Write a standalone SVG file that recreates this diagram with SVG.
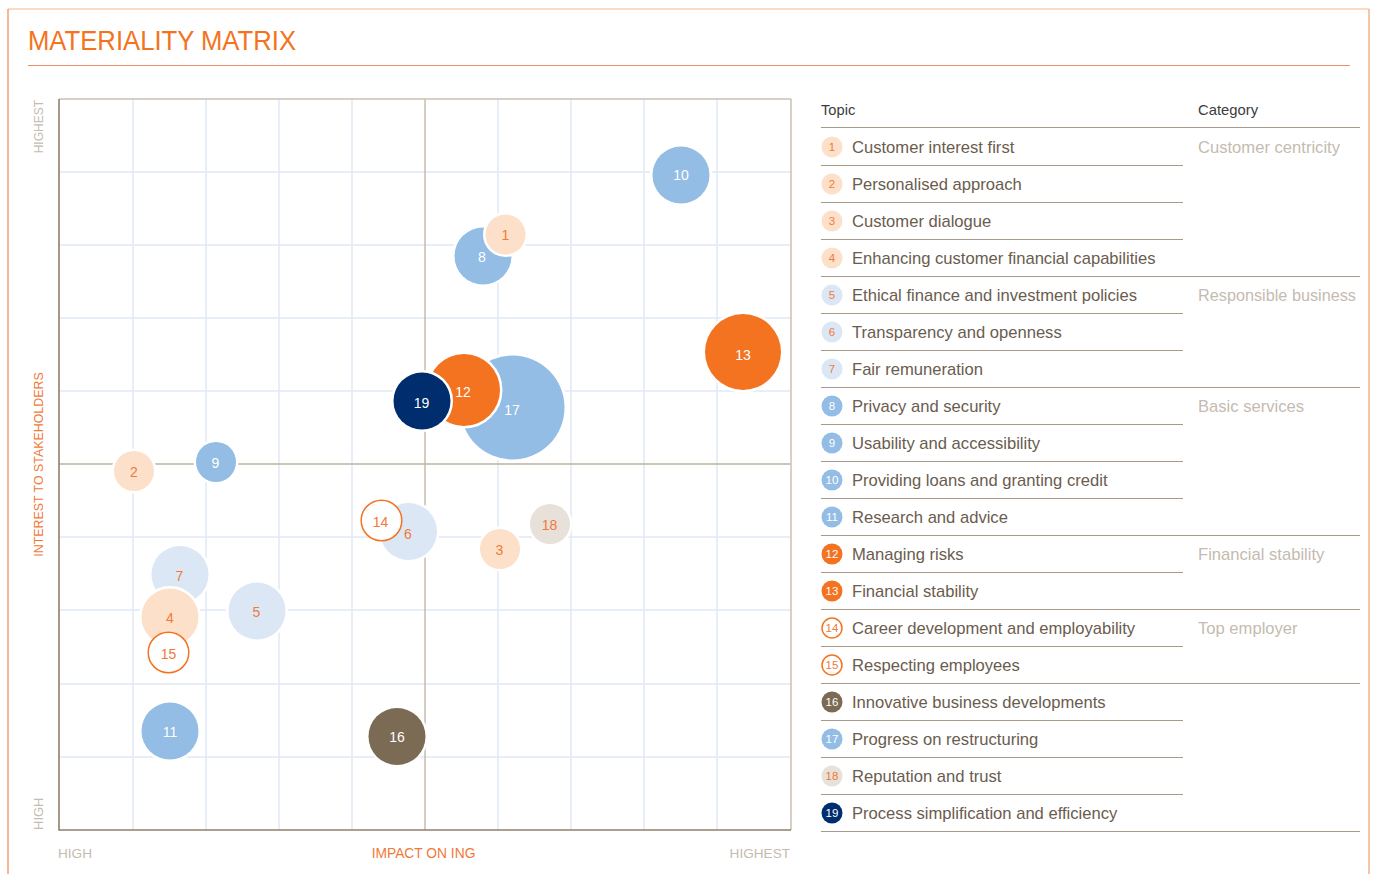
<svg xmlns="http://www.w3.org/2000/svg" width="1375" height="874" viewBox="0 0 1375 874">
<style>
text{font-family:"Liberation Sans",Arial,sans-serif}
.grid{stroke:#e0e9f5;stroke-width:1.5;fill:none}
.mid{stroke:#bfb2a3;stroke-width:1.3;fill:none}
.b{stroke:#fff;stroke-width:5;paint-order:stroke}
.peach{fill:#fde0c9}
.lblue{fill:#dce7f6}
.mblue{fill:#93bde4}
.orange{fill:#f37321}
.brown{fill:#7b6a54}
.beige{fill:#e7e1da}
.navy{fill:#002d6e}
.ring{fill:#fff;stroke:#f37321;stroke-width:1.5}
.lw{fill:#fff;font-size:14px;text-anchor:middle}
.lo{fill:#f07a3a;font-size:14px;text-anchor:middle}
.bw{fill:#fff;font-size:11.5px;text-anchor:middle}
.bo{fill:#f07a3a;font-size:11.5px;text-anchor:middle}
.topic{fill:#6a5c4e;font-size:16.6px}
.cat{fill:#c5bbb0;font-size:16.6px}
.sep{stroke:#a89a8a;stroke-width:1.2}
.axis{fill:#c5bbb0;font-size:13.6px}
</style>
<rect width="1375" height="874" fill="#fff"/>
<g id="page-frame">
<line x1="8" y1="9" x2="1369" y2="9" stroke="#f6b38c" stroke-width="1.2"/>
<line x1="8" y1="9" x2="8" y2="874" stroke="#f0874a" stroke-width="1.2"/>
<line x1="1369" y1="9" x2="1369" y2="874" stroke="#f0a070" stroke-width="1.2"/>
</g>
<g id="title">
<text x="28" y="50" font-size="27" fill="#f37321" textLength="268" lengthAdjust="spacingAndGlyphs">MATERIALITY MATRIX</text>
<line x1="28" y1="65.5" x2="1350" y2="65.5" stroke="#f09060" stroke-width="1"/>
</g>
<g id="grid">
<path class="grid" d="M133 99V830M206 99V830M279 99V830M352 99V830M498 99V830M571 99V830M644 99V830M717 99V830M59 172H791M59 245H791M59 318H791M59 391H791M59 537H791M59 610H791M59 684H791M59 757H791"/>
<path class="mid" d="M425 99V830M59 464H791"/>
</g>
<g id="axes">
<line x1="59" y1="99" x2="791" y2="99" stroke="#cbc1b5" stroke-width="1.5"/>
<line x1="791" y1="99" x2="791" y2="830" stroke="#cbc1b5" stroke-width="1.5"/>
<line x1="59" y1="99" x2="59" y2="830.8" stroke="#8f7f6c" stroke-width="1.6"/>
<line x1="59" y1="830" x2="791" y2="830" stroke="#8f7f6c" stroke-width="1.6"/>
<text class="axis" transform="translate(43,100) rotate(-90)" text-anchor="end" style="font-size:12px">HIGHEST</text>
<text transform="translate(43,464.5) rotate(-90)" text-anchor="middle" font-size="12.4" fill="#f07a3a">INTEREST TO STAKEHOLDERS</text>
<text class="axis" transform="translate(43,830) rotate(-90)" style="font-size:13px">HIGH</text>
<text class="axis" x="58" y="858">HIGH</text>
<text x="423.5" y="858" font-size="13.8" fill="#f07a3a" text-anchor="middle">IMPACT ON ING</text>
<text class="axis" x="790" y="858" text-anchor="end">HIGHEST</text>
</g>
<g id="bubbles">
<g id="b10"><circle class="b mblue" cx="681" cy="175" r="28.5"/><text class="lw" x="681" y="180">10</text></g>
<g id="b13"><circle class="b orange" cx="743" cy="352" r="38"/><text class="lw" x="743" y="360">13</text></g>
<g id="b8"><circle class="b mblue" cx="483" cy="256" r="28.5"/><text class="lw" x="482" y="262">8</text></g>
<g id="b1"><circle class="b peach" cx="505.5" cy="234.5" r="20"/><text class="lo" x="505.5" y="240">1</text></g>
<g id="b17"><circle class="b mblue" cx="512.5" cy="407.5" r="52"/><text class="lw" x="512" y="415">17</text></g>
<g id="b12"><circle class="b orange" cx="464" cy="390" r="36"/><text class="lw" x="463" y="397">12</text></g>
<g id="b19"><circle class="b navy" cx="422" cy="401" r="28.5"/><text class="lw" x="421.5" y="407.5">19</text></g>
<g id="b2"><circle class="b peach" cx="134" cy="471" r="20"/><text class="lo" x="134" y="477">2</text></g>
<g id="b9"><circle class="b mblue" cx="216" cy="462" r="20"/><text class="lw" x="215.5" y="468">9</text></g>
<g id="b7"><circle class="b lblue" cx="180" cy="574.5" r="28.5"/><text class="lo" x="179.5" y="581">7</text></g>
<g id="b4"><circle class="b peach" cx="170" cy="617" r="28.5"/><text class="lo" x="170" y="623">4</text></g>
<g id="b15"><circle class="ring" cx="168.5" cy="652.5" r="20.3"/><text class="lo" x="168.5" y="658.5">15</text></g>
<g id="b5"><circle class="b lblue" cx="257" cy="611" r="28.5"/><text class="lo" x="256.5" y="617">5</text></g>
<g id="b6"><circle class="b lblue" cx="408.5" cy="531.5" r="28.5"/><text class="lo" x="408" y="539">6</text></g>
<g id="b14"><circle class="ring" cx="381.5" cy="520.5" r="20.3"/><text class="lo" x="380.5" y="526.5">14</text></g>
<g id="b3"><circle class="b peach" cx="500" cy="549" r="20"/><text class="lo" x="499.5" y="555">3</text></g>
<g id="b18"><circle class="b beige" cx="550" cy="524" r="20"/><text class="lo" x="549.5" y="530">18</text></g>
<g id="b11"><circle class="b mblue" cx="170" cy="731" r="28.5"/><text class="lw" x="170" y="737">11</text></g>
<g id="b16"><circle class="b brown" cx="397" cy="736.5" r="28.5"/><text class="lw" x="397" y="742">16</text></g>
</g>
<g id="legend">
<text x="821" y="115" font-size="14.7" fill="#3c3c3c">Topic</text>
<text x="1198" y="115" font-size="14.8" fill="#3c3c3c">Category</text>
<g id="legend-lines">
<line class="sep" x1="821" y1="127.5" x2="1360" y2="127.5"/>
<line class="sep" x1="821" y1="165.5" x2="1183" y2="165.5"/>
<line class="sep" x1="821" y1="202.5" x2="1183" y2="202.5"/>
<line class="sep" x1="821" y1="239.5" x2="1183" y2="239.5"/>
<line class="sep" x1="821" y1="276.5" x2="1360" y2="276.5"/>
<line class="sep" x1="821" y1="313.5" x2="1183" y2="313.5"/>
<line class="sep" x1="821" y1="350.5" x2="1183" y2="350.5"/>
<line class="sep" x1="821" y1="387.5" x2="1360" y2="387.5"/>
<line class="sep" x1="821" y1="424.5" x2="1183" y2="424.5"/>
<line class="sep" x1="821" y1="461.5" x2="1183" y2="461.5"/>
<line class="sep" x1="821" y1="498.5" x2="1183" y2="498.5"/>
<line class="sep" x1="821" y1="535.5" x2="1360" y2="535.5"/>
<line class="sep" x1="821" y1="572.5" x2="1183" y2="572.5"/>
<line class="sep" x1="821" y1="609.5" x2="1360" y2="609.5"/>
<line class="sep" x1="821" y1="646.5" x2="1183" y2="646.5"/>
<line class="sep" x1="821" y1="683.5" x2="1360" y2="683.5"/>
<line class="sep" x1="821" y1="720.5" x2="1183" y2="720.5"/>
<line class="sep" x1="821" y1="757.5" x2="1183" y2="757.5"/>
<line class="sep" x1="821" y1="794.5" x2="1183" y2="794.5"/>
<line class="sep" x1="821" y1="831.5" x2="1360" y2="831.5"/>
</g>
<g id="l1"><circle class="peach" cx="832" cy="147" r="10.5"/><text class="bo" x="832" y="151">1</text><text class="topic" x="852" y="153">Customer interest first</text></g>
<g id="l2"><circle class="peach" cx="832" cy="184" r="10.5"/><text class="bo" x="832" y="188">2</text><text class="topic" x="852" y="190">Personalised approach</text></g>
<g id="l3"><circle class="peach" cx="832" cy="221" r="10.5"/><text class="bo" x="832" y="225">3</text><text class="topic" x="852" y="227">Customer dialogue</text></g>
<g id="l4"><circle class="peach" cx="832" cy="258" r="10.5"/><text class="bo" x="832" y="262">4</text><text class="topic" x="852" y="264">Enhancing customer financial capabilities</text></g>
<g id="l5"><circle class="lblue" cx="832" cy="295" r="10.5"/><text class="bo" x="832" y="299">5</text><text class="topic" x="852" y="301">Ethical finance and investment policies</text></g>
<g id="l6"><circle class="lblue" cx="832" cy="332" r="10.5"/><text class="bo" x="832" y="336">6</text><text class="topic" x="852" y="338">Transparency and openness</text></g>
<g id="l7"><circle class="lblue" cx="832" cy="369" r="10.5"/><text class="bo" x="832" y="373">7</text><text class="topic" x="852" y="375">Fair remuneration</text></g>
<g id="l8"><circle class="mblue" cx="832" cy="406" r="10.5"/><text class="bw" x="832" y="410">8</text><text class="topic" x="852" y="412">Privacy and security</text></g>
<g id="l9"><circle class="mblue" cx="832" cy="443" r="10.5"/><text class="bw" x="832" y="447">9</text><text class="topic" x="852" y="449">Usability and accessibility</text></g>
<g id="l10"><circle class="mblue" cx="832" cy="480" r="10.5"/><text class="bw" x="832" y="484">10</text><text class="topic" x="852" y="486">Providing loans and granting credit</text></g>
<g id="l11"><circle class="mblue" cx="832" cy="517" r="10.5"/><text class="bw" x="832" y="521">11</text><text class="topic" x="852" y="523">Research and advice</text></g>
<g id="l12"><circle class="orange" cx="832" cy="554" r="10.5"/><text class="bw" x="832" y="558">12</text><text class="topic" x="852" y="560">Managing risks</text></g>
<g id="l13"><circle class="orange" cx="832" cy="591" r="10.5"/><text class="bw" x="832" y="595">13</text><text class="topic" x="852" y="597">Financial stability</text></g>
<g id="l14"><circle class="ring" cx="832" cy="628" r="10" stroke-width="1.2"/><text class="bo" x="832" y="632">14</text><text class="topic" x="852" y="634">Career development and employability</text></g>
<g id="l15"><circle class="ring" cx="832" cy="665" r="10" stroke-width="1.2"/><text class="bo" x="832" y="669">15</text><text class="topic" x="852" y="671">Respecting employees</text></g>
<g id="l16"><circle class="brown" cx="832" cy="702" r="10.5"/><text class="bw" x="832" y="706">16</text><text class="topic" x="852" y="708">Innovative business developments</text></g>
<g id="l17"><circle class="mblue" cx="832" cy="739" r="10.5"/><text class="bw" x="832" y="743">17</text><text class="topic" x="852" y="745">Progress on restructuring</text></g>
<g id="l18"><circle class="beige" cx="832" cy="776" r="10.5"/><text class="bo" x="832" y="780">18</text><text class="topic" x="852" y="782">Reputation and trust</text></g>
<g id="l19"><circle class="navy" cx="832" cy="813" r="10.5"/><text class="bw" x="832" y="817">19</text><text class="topic" x="852" y="819">Process simplification and efficiency</text></g>
<g id="categories">
<text class="cat" x="1198" y="153">Customer centricity</text>
<text class="cat" x="1198" y="301" textLength="158" lengthAdjust="spacingAndGlyphs">Responsible business</text>
<text class="cat" x="1198" y="412">Basic services</text>
<text class="cat" x="1198" y="560">Financial stability</text>
<text class="cat" x="1198" y="634">Top employer</text>
</g>
</g>
</svg>
